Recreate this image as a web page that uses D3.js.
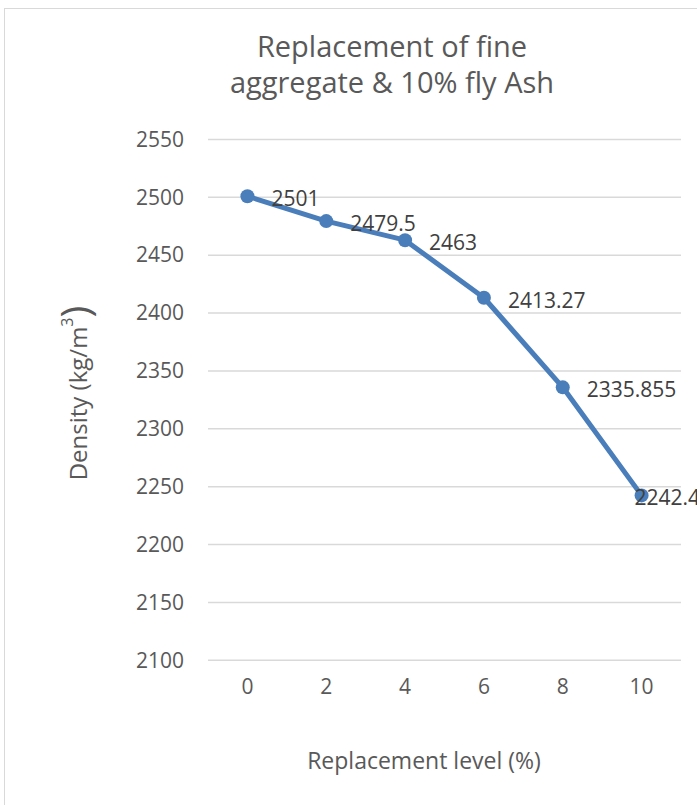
<!DOCTYPE html>
<html>
<head>
<meta charset="utf-8">
<script src="https://cdn.jsdelivr.net/npm/d3@7"></script>
<style>
  html, body { margin: 0; padding: 0; background: #fff; }
  svg { display: block; font-family: "Open Sans", "Noto Sans", sans-serif; }
</style>
</head>
<body>
<div id="chart"></div>
<script>
// chart data
const categories = ["0", "2", "4", "6", "8", "10"];
const density = [2501, 2479.5, 2463, 2413.27, 2335.855, 2242.49];
const densityLabels = ["2501", "2479.5", "2463", "2413.27", "2335.855", "2242.49"];
const yTicks = [2100, 2150, 2200, 2250, 2300, 2350, 2400, 2450, 2500, 2550];
const titleLines = ["Replacement of fine", "aggregate & 10% fly Ash"];
const xTitle = "Replacement level (%)";

const width = 697, height = 805;
const textColor = "#595959";
const lineColor = "#4a7ebb";

const svg = d3.select("#chart")
    .append("svg")
    .attr("width", width)
    .attr("height", height);

// chart area border (runs past the right and bottom edges)
svg.append("rect")
    .attr("x", 4.5).attr("y", 8.5)
    .attr("width", 760).attr("height", 860)
    .attr("fill", "none")
    .attr("stroke", "#d9d9d9");

// scales
const x = d3.scaleBand()
    .domain(categories)
    .range([208, 681]);

const y = d3.scaleLinear()
    .domain([2100, 2550])
    .range([660.3, 139.5]);

// gridlines
svg.append("g")
    .selectAll("line")
    .data(yTicks)
    .enter().append("line")
    .attr("x1", 208).attr("x2", 681)
    .attr("y1", d => y(d)).attr("y2", d => y(d))
    .attr("stroke", "#d9d9d9")
    .attr("stroke-width", 1.5);

// y axis tick labels
const yAxis = d3.axisLeft(y).tickValues(yTicks).tickFormat(d3.format("d")).tickSize(0).tickPadding(0);
const gy = svg.append("g")
    .attr("transform", "translate(184,0)")
    .call(yAxis);
gy.select(".domain").remove();
gy.selectAll("text")
    .attr("fill", textColor)
    .style("font-size", "21px")
    .style("font-family", "'Open Sans', sans-serif");

// x axis tick labels
const xAxis = d3.axisBottom(x).tickSize(0).tickPadding(0);
const gx = svg.append("g")
    .attr("transform", "translate(0,679)")
    .call(xAxis);
gx.select(".domain").remove();
gx.selectAll("text")
    .attr("fill", textColor)
    .style("font-size", "21px")
    .style("font-family", "'Open Sans', sans-serif");

// line
const points = categories.map((c, i) => ({ cat: c, value: density[i], label: densityLabels[i] }));
const line = d3.line()
    .x(d => x(d.cat) + x.bandwidth() / 2)
    .y(d => y(d.value));

svg.append("path")
    .datum(points)
    .attr("d", line)
    .attr("fill", "none")
    .attr("stroke", lineColor)
    .attr("stroke-width", 5)
    .attr("stroke-linejoin", "round");

svg.append("g")
    .selectAll("circle")
    .data(points)
    .enter().append("circle")
    .attr("cx", d => x(d.cat) + x.bandwidth() / 2)
    .attr("cy", d => y(d.value))
    .attr("r", 7)
    .attr("fill", lineColor);

// data labels, to the right of each point, kept inside the chart area
const chartRight = 712;
svg.append("g")
    .selectAll("text")
    .data(points)
    .enter().append("text")
    .text(d => d.label)
    .attr("fill", "#404040")
    .style("font-size", "21px")
    .attr("dominant-baseline", "central")
    .attr("y", d => y(d.value) + 2)
    .attr("x", function(d) {
        const w = this.getComputedTextLength();
        return Math.min(x(d.cat) + x.bandwidth() / 2 + 24, chartRight - w);
    });

// title
svg.append("g")
    .selectAll("text")
    .data(titleLines)
    .enter().append("text")
    .attr("x", 392)
    .attr("y", (d, i) => 45 + i * 36)
    .attr("text-anchor", "middle")
    .attr("dominant-baseline", "central")
    .attr("fill", textColor)
    .style("font-size", "29px")
    .text(d => d);

// x axis title
svg.append("text")
    .attr("x", 424)
    .attr("y", 760)
    .attr("text-anchor", "middle")
    .attr("dominant-baseline", "central")
    .attr("fill", textColor)
    .style("font-size", "23px")
    .text(xTitle);

// y axis title
const yTitle = svg.append("text")
    .attr("transform", "translate(77,393) rotate(-90)")
    .attr("text-anchor", "middle")
    .attr("dominant-baseline", "central")
    .attr("fill", textColor)
    .style("font-size", "24px");
yTitle.append("tspan").text("Density (kg/m");
yTitle.append("tspan").text("3").style("font-size", "16px").attr("dy", -10);
yTitle.append("tspan").text(")").style("font-size", "40px").attr("dy", 7);
</script>
</body>
</html>
